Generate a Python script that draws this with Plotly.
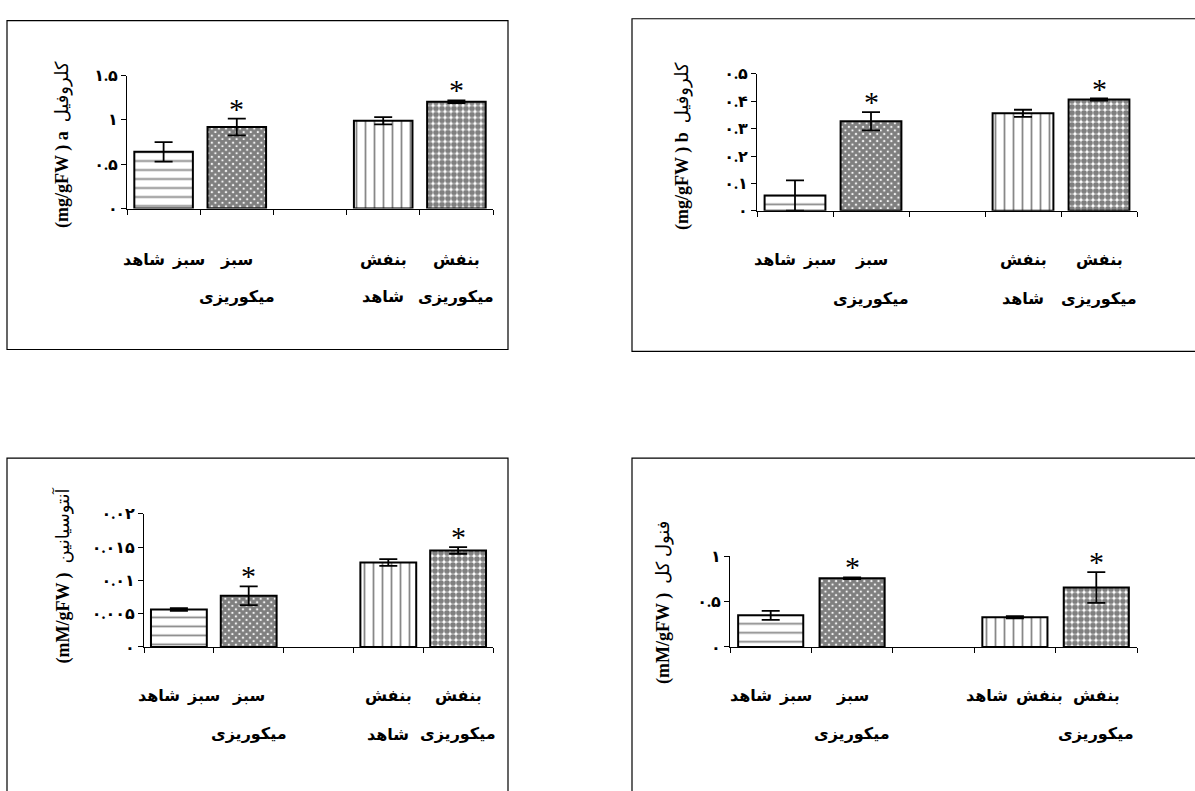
import plotly.graph_objects as go

W, H = 1195, 791

# ---------------- data ----------------
positions = [0, 1, 3, 4]          # slot 2 is the empty gap between groups
label_line1 = ["سبز  شاهد", "سبز", "بنفش", "بنفش"]
label_line2 = ["", "میکوریزی", "شاهد", "میکوریزی"]
label_line1_phenol = ["سبز  شاهد", "سبز", "بنفش  شاهد", "بنفش"]
label_line2_phenol = ["", "میکوریزی", "", "میکوریزی"]
significant = [False, True, False, True]

chl_a = [0.64, 0.92, 0.99, 1.205]
chl_a_err = [0.11, 0.095, 0.04, 0.015]
chl_a_ticks = [0, 0.5, 1, 1.5]
chl_a_ticktext = ["۰", "۰.۵", "۱", "۱.۵"]

chl_b = [0.056, 0.327, 0.356, 0.406]
chl_b_err = [0.055, 0.033, 0.013, 0.004]
chl_b_ticks = [0, 0.1, 0.2, 0.3, 0.4, 0.5]
chl_b_ticktext = ["۰", "۰.۱", "۰.۲", "۰.۳", "۰.۴", "۰.۵"]

antho = [0.00563, 0.0077, 0.0127, 0.01451]
antho_err = [0.0002, 0.0014, 0.0005, 0.0005]
antho_ticks = [0, 0.005, 0.01, 0.015, 0.02]
antho_ticktext = ["۰", "۰.۰۰۵", "۰.۰۱", "۰.۰۱۵", "۰.۰۲"]

phenol = [0.349, 0.758, 0.327, 0.655]
phenol_err = [0.05, 0.01, 0.012, 0.17]
phenol_ticks = [0, 0.5, 1]
phenol_ticktext = ["۰", "۰.۵", "۱"]

title_a = "<b>(mg/gFW ) a</b>  كلروفیل"
title_b = "<b>(mg/gFW ) b</b>  كلروفیل"
title_antho = "<b>(mM/gFW )</b>  آنتوسیانین"
title_phenol = "<b>(mM/gFW )</b>  فنول کل"

# ---------------- styling ----------------
patterns = [
    dict(shape="-", size=9, solidity=0.2, fgcolor="#111"),
    dict(shape="x", size=5, solidity=0.85, fgcolor="#000"),
    dict(shape="|", size=9, solidity=0.2, fgcolor="#111"),
    dict(shape=".", size=6, solidity=0.7, fgcolor="#000"),
]
FONT = "Liberation Serif, DejaVu Sans"

def px(x):
    return x / W

def py(y):
    return 1 - y / H

panels = [
    dict(v=chl_a, e=chl_a_err, t=chl_a_ticks, tt=chl_a_ticktext, title=title_a,
         xd=(127, 493), yd=(205, 69), yr=(0, 1.5), l1=label_line1, l2=label_line2,
         ly=(258, 295), tp=(63, 140), frame=(7, 13, 508, 349)),
    dict(v=chl_b, e=chl_b_err, t=chl_b_ticks, tt=chl_b_ticktext, title=title_b,
         xd=(757, 1137), yd=(207.3, 67.3), yr=(0, 0.5), l1=label_line1, l2=label_line2,
         ly=(258, 297), tp=(683, 141), frame=(632, 11, 1210, 351)),
    dict(v=antho, e=antho_err, t=antho_ticks, tt=antho_ticktext, title=title_antho,
         xd=(144, 493), yd=(653, 517), yr=(0, 0.02), l1=label_line1, l2=label_line2,
         ly=(703, 742), tp=(63, 580), frame=(7, 460, 508, 810)),
    dict(v=phenol, e=phenol_err, t=phenol_ticks, tt=phenol_ticktext, title=title_phenol,
         xd=(730, 1137), yd=(653, 560.3), yr=(0, 1), l1=label_line1_phenol, l2=label_line2_phenol,
         ly=(703, 742), tp=(664, 608), frame=(632, 460, 1210, 810)),
]

fig = go.Figure()
annotations = []
shapes = []

for i, p in enumerate(panels, start=1):
    xa = "x" if i == 1 else f"x{i}"
    ya = "y" if i == 1 else f"y{i}"
    fig.add_trace(go.Bar(
        x=positions, y=p["v"], width=0.8,
        marker=dict(color="white", line=dict(color="black", width=2),
                    pattern=dict(shape=[pt["shape"] for pt in patterns],
                                 size=[pt["size"] for pt in patterns],
                                 solidity=[pt["solidity"] for pt in patterns],
                                 fgcolor=[pt["fgcolor"] for pt in patterns],
                                 bgcolor="white", fillmode="overlay")),
        error_y=dict(type="data", array=p["e"], color="black", thickness=1.8, width=9),
        xaxis=xa, yaxis=ya, showlegend=False, cliponaxis=False,
    ))
    xkey = "xaxis" if i == 1 else f"xaxis{i}"
    ykey = "yaxis" if i == 1 else f"yaxis{i}"
    fig.layout[xkey] = dict(
        domain=[px(p["xd"][0]), px(p["xd"][1])], range=[-0.5, 4.5],
        anchor=ya, showgrid=False, zeroline=False, showline=True,
        linecolor="black", linewidth=1, ticks="outside", ticklen=5,
        tickcolor="black", tickvals=[-0.5, 0.5, 1.5, 2.5, 3.5, 4.5],
        showticklabels=False, fixedrange=True,
    )
    fig.layout[ykey] = dict(
        domain=[py(p["yd"][0]), py(p["yd"][1])], range=list(p["yr"]),
        anchor=xa, showgrid=False, zeroline=False, showline=True,
        linecolor="black", linewidth=1, ticks="outside", ticklen=5,
        tickcolor="black", tickvals=p["t"], ticktext=p["tt"],
        tickfont=dict(family=FONT, size=16, color="black", weight="bold"), fixedrange=True,
    )
    for xpos, a, b in zip(positions, p["l1"], p["l2"]):
        annotations.append(dict(x=xpos, y=py(p["ly"][0]), xref=xa, yref="paper",
                                text=f"<b>{a}</b>", showarrow=False,
                                xanchor="center", yanchor="middle",
                                font=dict(family=FONT, size=16, color="black")))
        if b:
            annotations.append(dict(x=xpos, y=py(p["ly"][1]), xref=xa, yref="paper",
                                    text=f"<b>{b}</b>", showarrow=False,
                                    xanchor="center", yanchor="middle",
                                    font=dict(family=FONT, size=16, color="black")))
    for xpos, v, e, s in zip(positions, p["v"], p["e"], significant):
        if s:
            annotations.append(dict(x=xpos, y=v + e, xref=xa, yref=ya, text="*",
                                    showarrow=False, xanchor="center", yanchor="bottom",
                                    yshift=-8,
                                    font=dict(family=FONT, size=30, color="black")))
    annotations.append(dict(x=px(p["tp"][0]), y=py(p["tp"][1]), xref="paper", yref="paper",
                            text=p["title"], textangle=-90, showarrow=False,
                            xanchor="center", yanchor="middle",
                            font=dict(family=FONT, size=18, color="black")))
    fx0, fy0, fx1, fy1 = p["frame"]
    shapes.append(dict(type="rect", xref="paper", yref="paper",
                       x0=px(fx0), x1=px(fx1), y0=py(fy1), y1=py(fy0),
                       line=dict(color="black", width=1.2), fillcolor="rgba(0,0,0,0)"))

fig.update_layout(
    width=W, height=H, margin=dict(l=0, r=0, t=0, b=0),
    paper_bgcolor="white", plot_bgcolor="white",
    annotations=annotations, shapes=shapes, bargap=0.2,
)

fig.write_html("out.html", config={"displayModeBar": False},
               post_script="document.body.style.margin='0px';document.body.style.overflow='hidden';")
